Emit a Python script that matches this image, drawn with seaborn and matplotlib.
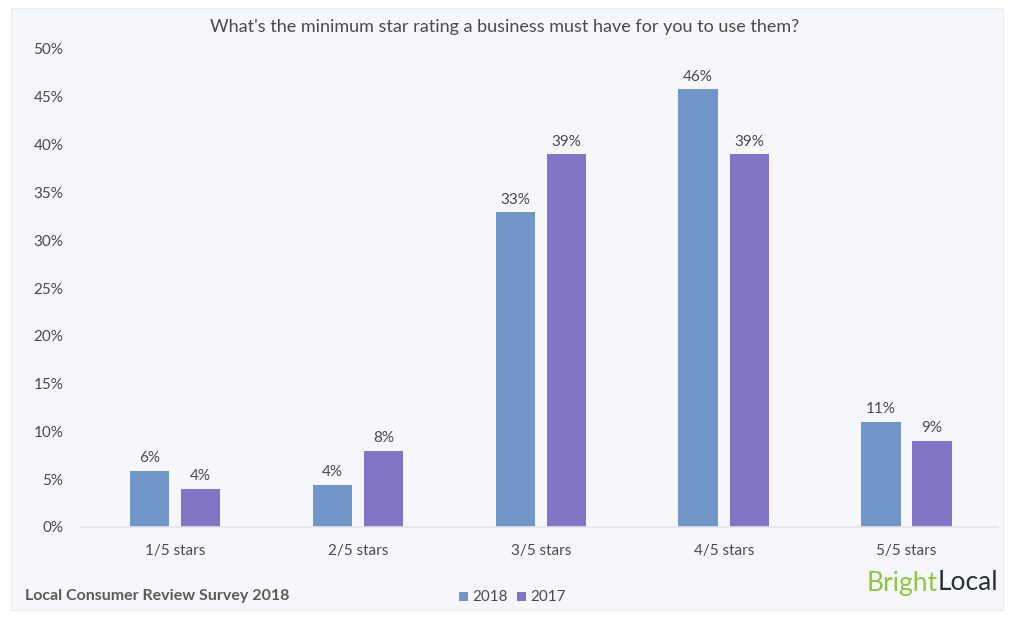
import numpy as np
import pandas as pd
import matplotlib
matplotlib.use("Agg")
import matplotlib.pyplot as plt
from matplotlib.patches import Rectangle
import seaborn as sns

# data
ratings = ["1/5 stars", "2/5 stars", "3/5 stars", "4/5 stars", "5/5 stars"]
pct_2018 = [5.9, 4.4, 32.9, 45.8, 11.0]
pct_2017 = [4.0, 8.0, 39.0, 39.0, 9.0]
years = ["2018", "2017"]
yticks = [0, 5, 10, 15, 20, 25, 30, 35, 40, 45, 50]

df = pd.DataFrame({
    "rating": ratings * 2,
    "pct": pct_2018 + pct_2017,
    "year": [years[0]] * len(ratings) + [years[1]] * len(ratings),
})

bg = "#f5f7fa"
txt = "#4a4a4a"
colors = {"2018": "#7295c8", "2017": "#8374c5"}

sns.set_style("white")
plt.rcParams["font.family"] = ["Lato", "DejaVu Sans"]

fig = plt.figure(figsize=(10.24, 6.18), dpi=100)
fig.patch.set_facecolor("white")
fig.patches.append(Rectangle((11 / 1024, 8 / 618), 992 / 1024, 602 / 618,
                             transform=fig.transFigure, facecolor=bg,
                             edgecolor="#e8ebf0", lw=0.8, zorder=-5))

ax = fig.add_axes([80 / 1024, 91 / 618, 918 / 1024, 478 / 618])
ax.set_facecolor(bg)

sns.barplot(data=df, x="rating", y="pct", hue="year", hue_order=years,
            palette=colors, saturation=1, width=0.56, gap=0.23, ax=ax,
            legend=False, edgecolor="none")

for cont in ax.containers:
    ax.bar_label(cont, labels=[f"{v:.0f}%" for v in cont.datavalues],
                 padding=4, fontsize=11, color=txt)

ax.set_ylim(0, 50)
ax.set_xlim(-0.52, 4.5)
ax.set_yticks(yticks)
ax.set_yticklabels([f"{t}%" for t in yticks])
ax.tick_params(axis="both", length=0, labelsize=11, labelcolor=txt)
ax.tick_params(axis="y", pad=12)
ax.tick_params(axis="x", pad=12)
ax.set_xlabel("")
ax.set_ylabel("")
for s in ["top", "right", "left"]:
    ax.spines[s].set_visible(False)
ax.spines["bottom"].set_color("#e3e6eb")
ax.spines["bottom"].set_linewidth(1.2)

fig.text(505 / 1024, 1 - 27 / 618,
         "What's the minimum star rating a business must have for you to use them?",
         ha="center", va="center", fontsize=13, color=txt)

fig.text(25 / 1024, 1 - 596 / 618, "Local Consumer Review Survey 2018",
         ha="left", va="center", fontsize=11.5, color="#5a5a5a", fontweight="bold")

# legend
for x0, yr in [(459, "2018"), (517, "2017")]:
    fig.patches.append(Rectangle((x0 / 1024, 1 - 601 / 618), 9 / 1024, 9 / 618,
                                 transform=fig.transFigure, facecolor=colors[yr],
                                 edgecolor="none", zorder=3))
    fig.text((x0 + 13) / 1024, 1 - 597 / 618, yr, ha="left", va="center",
             fontsize=11, color=txt)

# logo, right aligned at x=998
t2 = fig.text(998 / 1024, 1 - 583 / 618, "Local", ha="right", va="center",
              fontsize=19, color="#2b2f36")
fig.canvas.draw()
bb = t2.get_window_extent()
fig.text(bb.x0 / 1024, 1 - 583 / 618, "Bright", ha="right", va="center",
         fontsize=19, color="#8dc63f")

fig.savefig("out.png", dpi=100, facecolor="white")
